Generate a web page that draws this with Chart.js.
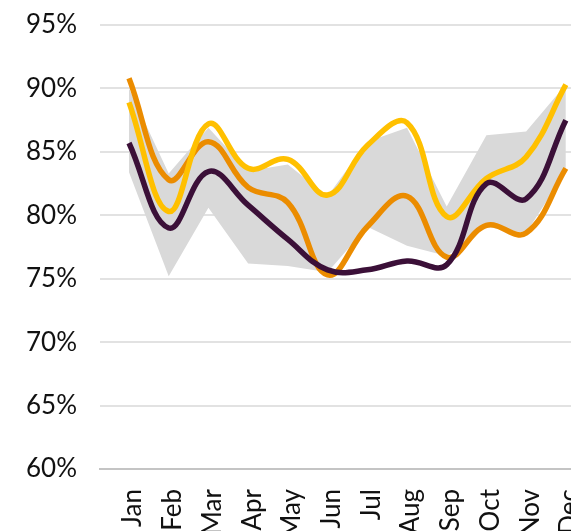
<!DOCTYPE html>
<html>
<head>
<meta charset="utf-8">
<script src="https://cdn.jsdelivr.net/npm/chart.js@4"></script>
<style>
    html, body { margin: 0; padding: 0; background: #fff; overflow: hidden; }
    #wrap { width: 600px; height: 560px; }
</style>
</head>
<body>
<div id="wrap"><canvas id="rateChart"></canvas></div>
<script>
var months = ['Jan', 'Feb', 'Mar', 'Apr', 'May', 'Jun', 'Jul', 'Aug', 'Sep', 'Oct', 'Nov', 'Dec'];
var yTicks = [60, 65, 70, 75, 80, 85, 90, 95];

var seriesPurple = [85.7, 79.0, 83.45, 80.8, 78.1, 75.7, 75.7, 76.4, 76.1, 82.5, 81.3, 87.5];
var seriesOrange = [90.8, 82.8, 85.8, 82.2, 81.0, 75.3, 79.1, 81.5, 76.7, 79.2, 78.6, 83.7];
var seriesYellow = [88.9, 80.3, 87.2, 83.7, 84.4, 81.6, 85.5, 87.3, 79.9, 82.9, 84.6, 90.3];
var rangeHigh = [90.0, 83.3, 86.9, 83.5, 84.0, 81.5, 85.8, 86.9, 80.7, 86.3, 86.6, 90.3];
var rangeLow = [83.4, 75.2, 80.6, 76.2, 76.0, 75.5, 79.1, 77.6, 76.8, 79.1, 78.6, 83.5];

function toPoints(values) {
    var pts = [];
    for (var i = 0; i < values.length; i++) {
        pts.push({ x: i, y: values[i] });
    }
    return pts;
}

function lineSet(label, values, color, order) {
    return {
        label: label,
        data: toPoints(values),
        borderColor: color,
        borderWidth: 5.5,
        tension: 0.4,
        pointRadius: 0,
        fill: false,
        order: order
    };
}

var labelFont = { family: 'Lato, "Open Sans", sans-serif', size: 26 };

var ctx = document.getElementById('rateChart').getContext('2d');
var rateChart = new Chart(ctx, {
    type: 'line',
    data: {
        datasets: [
            lineSet('Series 1', seriesPurple, '#3b1038', 0),
            lineSet('Series 2', seriesYellow, '#ffc000', 1),
            lineSet('Series 3', seriesOrange, '#eb8c00', 2),
            {
                label: 'Range high',
                data: toPoints(rangeHigh),
                borderWidth: 0,
                tension: 0,
                pointRadius: 0,
                backgroundColor: '#d9d9d9',
                fill: '+1',
                order: 5
            },
            {
                label: 'Range low',
                data: toPoints(rangeLow),
                borderWidth: 0,
                tension: 0,
                pointRadius: 0,
                backgroundColor: '#d9d9d9',
                fill: false,
                order: 5
            }
        ]
    },
    options: {
        responsive: true,
        maintainAspectRatio: false,
        animation: false,
        layout: { padding: { top: 25, left: 0, right: 0, bottom: 0 } },
        plugins: {
            legend: { display: false },
            tooltip: { enabled: false }
        },
        scales: {
            x: {
                type: 'linear',
                min: -0.73,
                max: 11.86,
                afterBuildTicks: function(scale) {
                    scale.ticks = months.map(function(m, i) { return { value: i }; });
                },
                afterFit: function(scale) {
                    scale.height = 91;
                    scale.paddingTop = 0;
                    scale.paddingLeft = 0;
                    scale.paddingRight = 0;
                },
                grid: { display: false, drawTicks: false },
                border: { display: true, color: '#c4c4c4', width: 2 },
                ticks: {
                    autoSkip: false,
                    minRotation: 90,
                    maxRotation: 90,
                    padding: 20,
                    labelOffset: 4,
                    color: '#111',
                    font: labelFont,
                    callback: function(value) { return months[value]; }
                }
            },
            y: {
                min: 60,
                max: 95,
                afterBuildTicks: function(scale) {
                    scale.ticks = yTicks.map(function(v) { return { value: v }; });
                },
                afterFit: function(scale) {
                    scale.width = 100;
                    scale.paddingTop = 0;
                    scale.paddingBottom = 0;
                },
                grid: { color: '#e2e2e2', lineWidth: 2, drawTicks: false },
                border: { display: false },
                ticks: {
                    padding: 23,
                    color: '#111',
                    font: labelFont,
                    callback: function(value) { return value + '%'; }
                }
            }
        }
    }
});
</script>
</body>
</html>
